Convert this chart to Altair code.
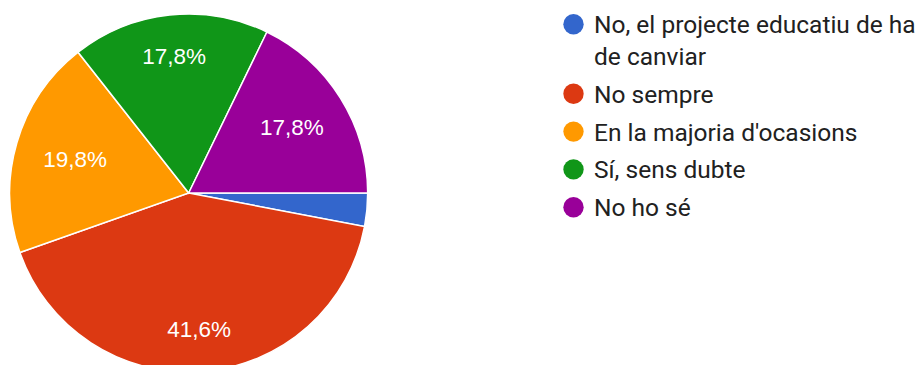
import math
import textwrap

import altair as alt
import pandas as pd

# Survey answers, share of responses (%) and slice colours
categories = [
    "No, el projecte educatiu de ha de canviar",
    "No sempre",
    "En la majoria d'ocasions",
    "Sí, sens dubte",
    "No ho sé",
]
percentages = [3.0, 41.6, 19.8, 17.8, 17.8]
colors = ["#3366CC", "#DC3912", "#FF9900", "#109618", "#990099"]

# Layout
W, H = 917, 365
CX, CY, R = 188.7, 193, 179          # pie centre and radius
LABEL_RX, LABEL_RY = 117, 137.5       # label ellipse (horizontal / vertical)
LEG_X_DOT, LEG_X_TEXT = 573.5, 594
LEG_TOP, LEG_STEP, LINE_H = 24.3, 37.8, 31.7
WRAP = 30

slices = pd.DataFrame(
    {"answer": categories, "pct": percentages, "idx": list(range(len(categories)))}
)

color = alt.Color(
    "answer:N", scale=alt.Scale(domain=categories, range=colors), legend=None
)
# slices start at 3 o'clock and run clockwise
theta = alt.Theta(
    "pct:Q",
    stack=True,
    scale=alt.Scale(range=[math.pi / 2, math.pi / 2 + 2 * math.pi]),
)
order = alt.Order("idx:Q", sort="ascending")

base = alt.Chart(slices)

pie = base.mark_arc(
    outerRadius=R, x=CX, y=CY, stroke="white", strokeWidth=1.5
).encode(theta=theta, color=color, order=order)

# Percentage labels at each slice's mid angle, on an ellipse inside the pie
labels = (
    base.transform_joinaggregate(total="sum(pct)")
    .transform_window(cum="sum(pct)", sort=[alt.SortField("idx")], frame=[None, 0])
    .transform_calculate(
        mid="2 * PI * (datum.cum - datum.pct / 2) / datum.total",
        ang="PI / 2 + datum.mid",
        r=f"1 / sqrt(pow(cos(datum.mid) / {LABEL_RX}, 2) + pow(sin(datum.mid) / {LABEL_RY}, 2))",
        label="datum.pct >= 5 ? replace(format(datum.pct, '.1f'), '.', ',') + '%' : ''",
    )
    .mark_text(
        x=CX, y=CY, color="white", font="Arial, Liberation Sans", fontSize=22.5,
        align="center", baseline="middle",
    )
    .encode(
        theta=alt.Theta("ang:Q", scale=None, stack=None),
        radius=alt.Radius("r:Q", scale=None),
        text="label:N",
    )
)

# Hand-built legend, long entries wrapped onto extra lines
legend_rows = []
extra_lines = 0
for i, cat in enumerate(categories):
    lines = textwrap.wrap(cat, WRAP)
    legend_rows.append(
        {"answer": cat, "slot": i + extra_lines * LINE_H / LEG_STEP, "text": "\n".join(lines)}
    )
    extra_lines += len(lines) - 1
legend_df = pd.DataFrame(legend_rows)

leg_y = alt.Y(
    "slot:Q",
    scale=alt.Scale(domain=[0, 5], range=[LEG_TOP, LEG_TOP + LEG_STEP * 5], nice=False, zero=False),
    axis=None,
)

legend_dots = (
    alt.Chart(legend_df)
    .mark_circle(size=415, opacity=1)
    .encode(x=alt.value(LEG_X_DOT), y=leg_y, color=color)
)

legend_text = (
    alt.Chart(legend_df)
    .mark_text(
        align="left", baseline="alphabetic", dy=9, font="Roboto", fontSize=24.5,
        lineHeight=LINE_H, lineBreak="\n", color="#212121",
    )
    .encode(x=alt.value(LEG_X_TEXT), y=leg_y, text="text:N")
)

chart = (
    alt.layer(pie, labels, legend_dots, legend_text)
    .properties(width=W, height=H, padding=0, autosize=alt.AutoSizeParams(type="none"))
    .configure_view(stroke=None)
)

chart.save("out.html", embed_options={"renderer": "svg", "actions": False})
